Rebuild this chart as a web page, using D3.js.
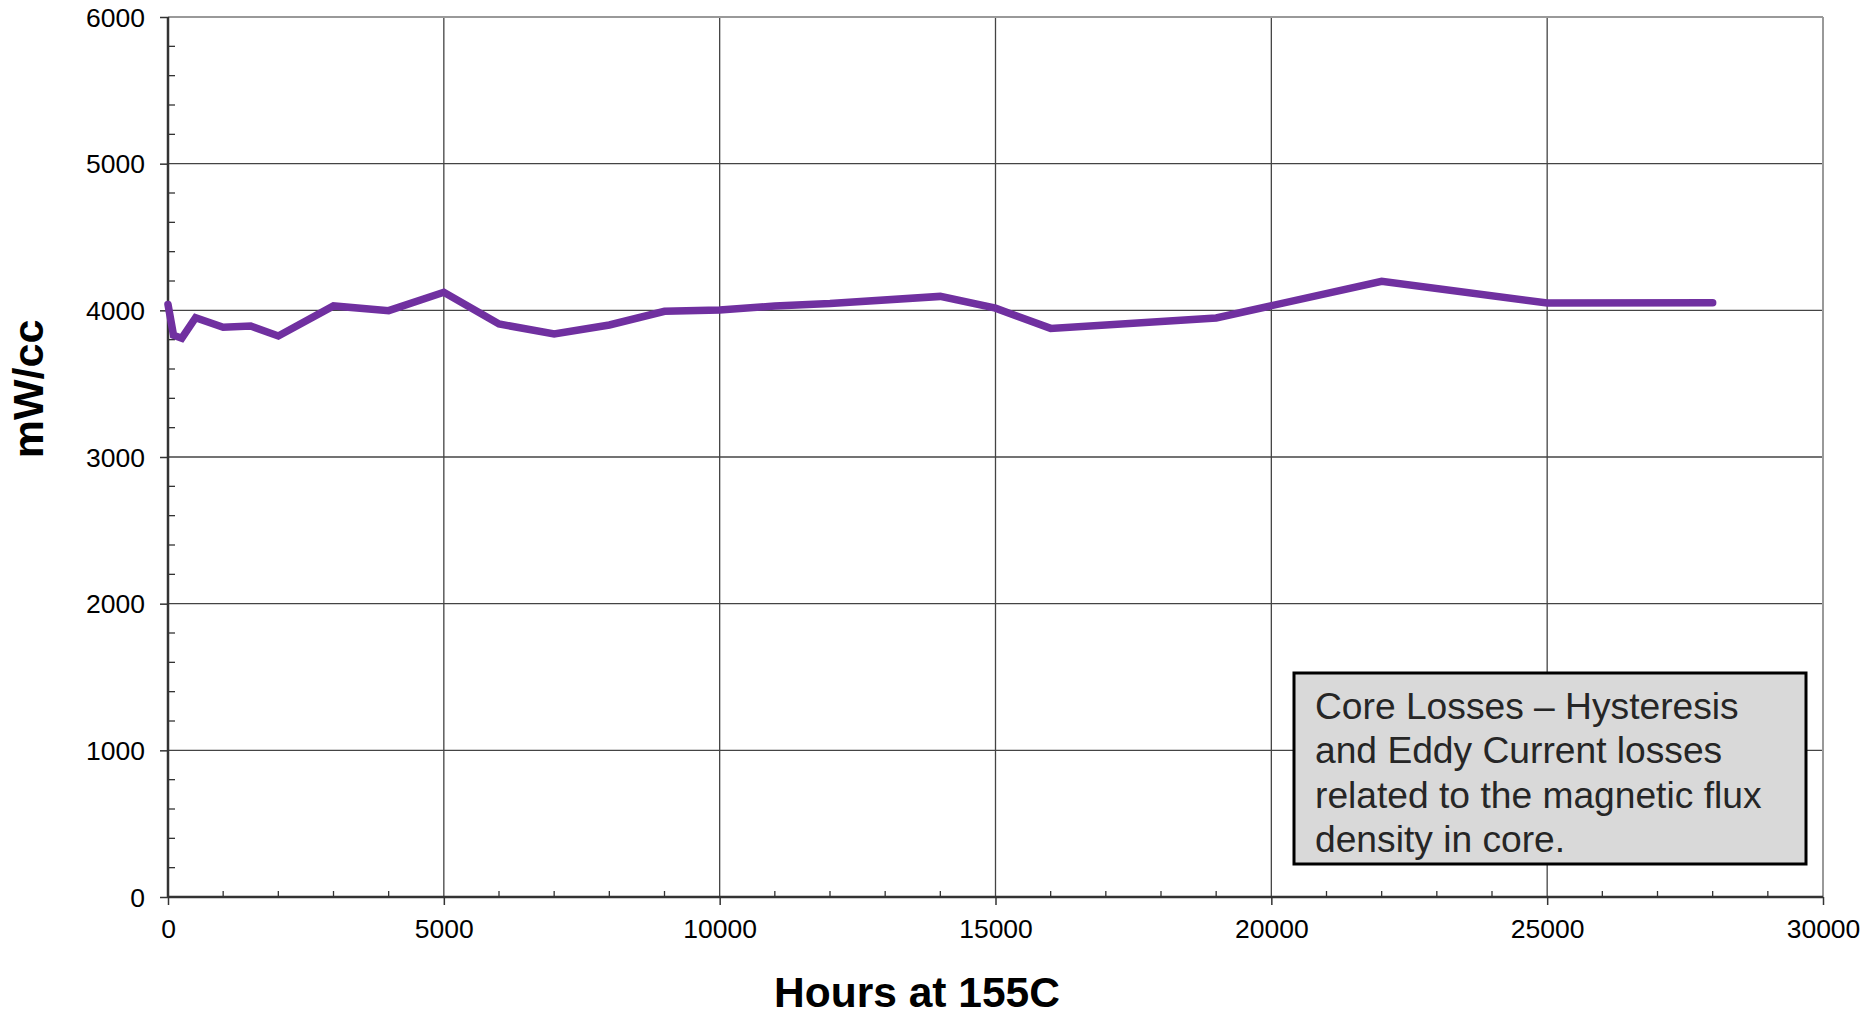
<!DOCTYPE html>
<html>
<head>
<meta charset="utf-8">
<script src="https://cdn.jsdelivr.net/npm/d3@7/dist/d3.min.js"></script>
<style>
  html, body { margin: 0; padding: 0; background: #fff; }
  svg { display: block; font-family: "Liberation Sans", Arial, sans-serif; }
</style>
</head>
<body>
<svg id="chart" width="1874" height="1016"></svg>
<script>
// ---- Data ----
const hours  = [0, 100, 250, 500, 1000, 1500, 2000, 3000, 4000, 5000, 6000, 7000, 8000, 9000, 10000, 11000, 12000, 14000, 15000, 16000, 19000, 22000, 25000, 28000];
const values = [4040, 3830, 3810, 3950, 3885, 3893, 3825, 4030, 3998, 4123, 3907, 3839, 3900, 3993, 4002, 4030, 4046, 4095, 4015, 3877, 3948, 4198, 4050, 4052];
const xTicks = [0, 5000, 10000, 15000, 20000, 25000, 30000];
const yTicks = [0, 1000, 2000, 3000, 4000, 5000, 6000];
const xTitle = "Hours at 155C";
const yTitle = "mW/cc";
const noteLines = ["Core Losses \u2013 Hysteresis", "and Eddy Current losses", "related to the magnetic flux", "density in core."];

// ---- Layout ----
const W = 1874, H = 1016;
const m = {left: 168, top: 17, right: 51, bottom: 119};
const pw = W - m.left - m.right, ph = H - m.top - m.bottom;

const svg = d3.select("#chart");
const g = svg.append("g").attr("transform", `translate(${m.left},${m.top})`);

const x = d3.scaleLinear().domain([0, 30000]).range([0, pw]);
const y = d3.scaleLinear().domain([0, 6000]).range([ph, 0]);

// gridlines
g.append("g").selectAll("line").data(yTicks.filter(d => d > 0 && d < 6000)).join("line")
  .attr("x1", 0).attr("x2", pw).attr("y1", d => y(d)).attr("y2", d => y(d))
  .attr("stroke", "#444").attr("stroke-width", 1.3);
g.append("g").selectAll("line").data(xTicks.filter(d => d > 0 && d < 30000)).join("line")
  .attr("y1", 0).attr("y2", ph).attr("x1", d => x(d)).attr("x2", d => x(d))
  .attr("stroke", "#444").attr("stroke-width", 1.3);

// top and right border
g.append("line").attr("x1", 0).attr("x2", pw).attr("y1", 0).attr("y2", 0).attr("stroke", "#999").attr("stroke-width", 2);
g.append("line").attr("x1", pw).attr("x2", pw).attr("y1", 0).attr("y2", ph).attr("stroke", "#999").attr("stroke-width", 2);

// minor ticks (inside)
const xMinor = d3.range(1000, 30000, 1000).filter(d => d % 5000 !== 0);
const yMinor = d3.range(200, 6000, 200).filter(d => d % 1000 !== 0);
g.append("g").selectAll("line").data(xMinor).join("line")
  .attr("x1", d => x(d)).attr("x2", d => x(d)).attr("y1", ph).attr("y2", ph - 6)
  .attr("stroke", "#333").attr("stroke-width", 1.3);
g.append("g").selectAll("line").data(yMinor).join("line")
  .attr("y1", d => y(d)).attr("y2", d => y(d)).attr("x1", 0).attr("x2", 7)
  .attr("stroke", "#333").attr("stroke-width", 1.3);

// axes
const xAxis = d3.axisBottom(x).tickValues(xTicks).tickSize(8).tickPadding(14).tickFormat(d3.format("d"));
const yAxis = d3.axisLeft(y).tickValues(yTicks).tickSize(8).tickPadding(15).tickFormat(d3.format("d"));

const gx = g.append("g").attr("transform", `translate(0,${ph})`).call(xAxis);
const gy = g.append("g").call(yAxis);
[gx, gy].forEach(a => {
  a.select(".domain").attr("stroke", "#333").attr("stroke-width", 2.5);
  a.selectAll(".tick line").attr("stroke", "#333").attr("stroke-width", 1.5);
  a.selectAll(".tick text").attr("fill", "#000").style("font-size", "26.5px")
    .style("font-family", '"Liberation Sans", Arial, sans-serif');
});
gx.select(".domain").attr("d", `M0,0H${pw}`);
gy.select(".domain").attr("d", `M0,${ph}V0`);
gy.selectAll(".tick text").attr("dy", "0.35em");

// line
const line = d3.line().x((d, i) => x(hours[i])).y(d => y(d));
g.append("path").datum(values)
  .attr("d", line)
  .attr("fill", "none")
  .attr("stroke", "#7030A0")
  .attr("stroke-width", 7.5)
  .attr("stroke-linejoin", "miter")
  .attr("stroke-linecap", "round");

// axis titles
svg.append("text").attr("x", 917).attr("y", 1007)
  .attr("text-anchor", "middle").style("font-size", "42.5px").style("font-weight", "bold")
  .attr("fill", "#000").text(xTitle);
svg.append("text").attr("transform", "translate(43,389) rotate(-90)")
  .attr("text-anchor", "middle").style("font-size", "43px").style("font-weight", "bold")
  .attr("fill", "#000").text(yTitle);

// note box
const note = svg.append("g");
note.append("rect").attr("x", 1294).attr("y", 673).attr("width", 512).attr("height", 191)
  .attr("fill", "#d9d9d9").attr("stroke", "#000").attr("stroke-width", 3);
note.selectAll("text").data(noteLines).join("text")
  .attr("x", 1315).attr("y", (d, i) => 719 + i * 44.4)
  .style("font-size", "37.2px").attr("fill", "#262626").text(d => d);
</script>
</body>
</html>
